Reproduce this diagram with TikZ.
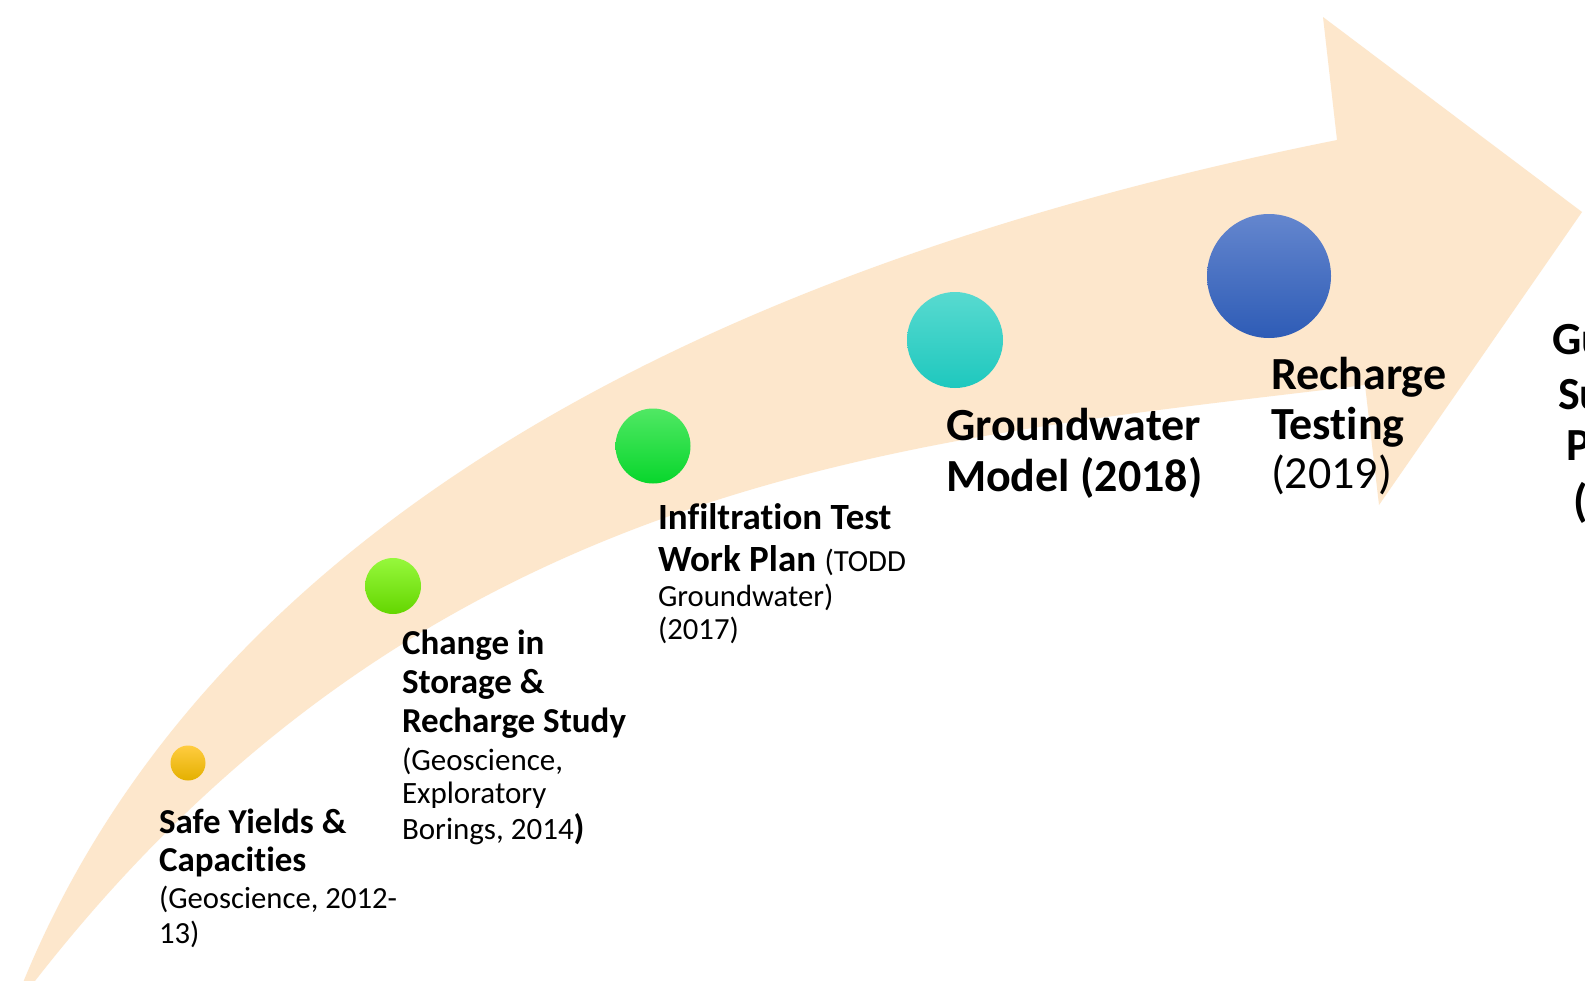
\documentclass[tikz,border=0pt]{standalone}
\usepackage{fontspec}
\setmainfont{Carlito}[Ligatures=NoCommon]
\definecolor{peach}{RGB}{253,231,204}
\definecolor{yelA}{RGB}{255,204,64}
\definecolor{yelB}{RGB}{228,176,0}
\definecolor{lgrA}{RGB}{150,248,60}
\definecolor{lgrB}{RGB}{100,214,0}
\definecolor{grA}{RGB}{80,232,100}
\definecolor{grB}{RGB}{8,214,44}
\definecolor{tlA}{RGB}{88,218,208}
\definecolor{tlB}{RGB}{30,200,190}
\definecolor{blA}{RGB}{100,134,206}
\definecolor{blB}{RGB}{46,92,182}
\newcommand\fBig{\fontsize{46}{52}\selectfont\bfseries}
\newcommand\fBigR{\fontsize{46}{52}\selectfont\mdseries}
\newcommand\fMid{\fontsize{35}{40}\selectfont\bfseries}
\newcommand\fMidI{\fontsize{37}{42}\selectfont\bfseries}
\newcommand\fSmA{\fontsize{30.7}{35}\selectfont\mdseries}
\newcommand\fSmB{\fontsize{31}{35}\selectfont\mdseries}
\newcommand\fSmC{\fontsize{30.7}{35}\selectfont\mdseries}
\begin{document}
\begin{tikzpicture}[x=1pt,y=-1pt,
  lbl/.style={anchor=base west,inner sep=0pt,outer sep=0pt,text=black},
  dot/.style={circle,inner sep=0pt,outer sep=0pt,draw=none}]
\useasboundingbox (0,0) rectangle (1585,980);
\clip (0,0) rectangle (1585,980);
\fill[white] (0,0) rectangle (1585,980);
% curved arrow
\coordinate (tailU) at (20,990);
\coordinate (notchU) at (1337,140);
\coordinate (barbU) at (1323,17);
\coordinate (tip) at (1582,212);
\coordinate (barbL) at (1379,505);
\coordinate (notchL) at (1365,385);
\coordinate (tailL) at (28,990);
\fill[peach] (tailU) .. controls (240,440) and (887,230) .. (notchU)
  -- (barbU) -- (tip) -- (barbL) -- (notchL)
  .. controls (915,440) and (428,470) .. (tailL) -- cycle;
% milestones
\node[dot,minimum size=35pt,top color=yelA,bottom color=yelB] (c1) at (188,763) {};
\node[dot,minimum size=56pt,top color=lgrA,bottom color=lgrB] (c2) at (393,586) {};
\node[dot,minimum size=75pt,top color=grA,bottom color=grB] (c3) at (653,446) {};
\node[dot,minimum size=96pt,top color=tlA,bottom color=tlB] (c4) at (955,340) {};
\node[dot,minimum size=124pt,top color=blA,bottom color=blB] (c5) at (1269,276) {};
% labels 1
\node[lbl] (s1) at (159,833) {\fMid Safe Yields \&};
\node[lbl] (s2) at (159,871) {\fMid Capacities};
\node[lbl] (s3) at (159,908) {\fSmA (Geoscience, 2012-};
\node[lbl] (s4) at (159,943) {\fSmA 13)};
% labels 2
\node[lbl] (r1) at (402,654) {\fMid Change in};
\node[lbl] (r2) at (402,693) {\fMid Storage \&};
\node[lbl] (r3) at (402,732) {\fMid Recharge Study};
\node[lbl] (r4) at (402,770) {\fSmB (Geoscience,};
\node[lbl] (r5) at (402,803) {\fSmB Exploratory};
\node[lbl] (r6) at (402,839) {\fSmB Borings, 2014{\fMid )}};
% labels 3
\node[lbl] (i1) at (658,529) {\fMidI Infiltration Test};
\node[lbl] (i2) at (658,571) {\fMidI Work Plan {\fSmC (TODD}};
\node[lbl] (i3) at (658,606) {\fSmC Groundwater)};
\node[lbl] (i4) at (658,639) {\fSmC (2017)};
% labels 4
\node[lbl] (g1) at (946,440) {\fBig Groundwater};
\node[lbl] (g2) at (946,491) {\fBig Model (2018)};
% labels 5
\node[lbl] (t1) at (1271,389) {\fBig Recharge};
\node[lbl] (t2) at (1271,439) {\fBig Testing};
\node[lbl] (t3) at (1271,488) {\fBigR (2019)};
% labels 6 (cut at the right edge)
\node[lbl] (p1) at (1552,354) {\fBig Gu};
\node[lbl] (p2) at (1558,409) {\fBig Su};
\node[lbl] (p3) at (1566,460) {\fBig P};
\node[lbl] (p4) at (1573,516) {\fBig (};
\end{tikzpicture}
\end{document}
